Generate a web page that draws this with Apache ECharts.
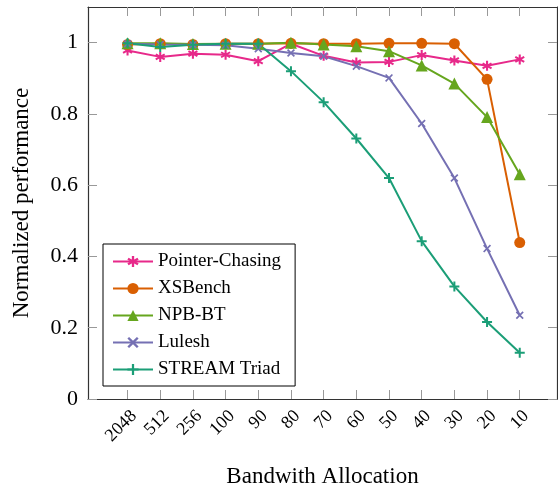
<!DOCTYPE html>
<html>
<head>
<meta charset="utf-8">
<script src="https://cdn.jsdelivr.net/npm/echarts@6/dist/echarts.min.js"></script>
<style>
html,body{margin:0;padding:0;background:#fff;}
#chart{width:558px;height:489px;}
</style>
</head>
<body>
<div id="chart"></div>
<script>
const categories = ['2048','512','256','100','90','80','70','60','50','40','30','20','10'];
const pointerChasing = [0.978,0.960,0.969,0.966,0.948,0.997,0.963,0.944,0.946,0.965,0.950,0.935,0.953];
const xsBench = [0.995,0.997,0.995,0.997,0.997,0.998,0.997,0.997,0.998,0.998,0.997,0.897,0.439];
const npbBT = [0.998,0.998,0.996,0.997,0.997,1.0,0.995,0.990,0.976,0.936,0.885,0.791,0.631];
const lulesh = [0.997,0.995,0.994,0.993,0.983,0.971,0.962,0.934,0.901,0.773,0.620,0.422,0.235];
const streamTriad = [0.998,0.988,0.994,0.997,0.997,0.920,0.833,0.731,0.620,0.443,0.316,0.216,0.130];
const yTicks = [0,0.2,0.4,0.6,0.8,1];

const FONT = 'Liberation Serif';
const xIdx = categories.map((c,i)=>i);
const toPairs = arr => arr.map((v,i)=>[i,v]);

const SYM_PLUS = 'path://M4,0H6V4H10V6H6V10H4V6H0V4H4Z';
const SYM_X = 'path://M1.5,0L5,3.5L8.5,0L10,1.5L6.5,5L10,8.5L8.5,10L5,6.5L1.5,10L0,8.5L3.5,5L0,1.5Z';
const SYM_AST = 'path://M4,0L6,0L6,10L4,10Z M1.17,1.634L9.83,6.634L8.83,8.366L0.17,3.366Z M9.83,3.366L1.17,8.366L0.17,6.634L8.83,1.634Z';

const frame = {lineStyle:{color:'#333',width:1.2}};
const tick = {show:true,inside:true,length:9,lineStyle:{color:'#999',width:1}};

const mk = (name,data,color,symbol,size)=>({
  name, type:'line', data:toPairs(data), xAxisIndex:0, yAxisIndex:0,
  symbol, symbolSize:size, showSymbol:true,
  lineStyle:{color,width:2}, itemStyle:{color},
  emphasis:{disabled:true}
});

const chart = echarts.init(document.getElementById('chart'));
chart.setOption({
  animation:false,
  backgroundColor:'#fff',
  grid:{left:88,right:1,top:7,bottom:90,containLabel:false,outerBoundsMode:'none'},
  xAxis:[
    {type:'value',position:'bottom',min:-1.21,max:13.14,
     axisLine:{show:true,onZero:false,...frame},
     axisTick:{...tick,customValues:xIdx},
     splitLine:{show:false},
     axisLabel:{customValues:xIdx,rotate:45,margin:8,verticalAlign:'top',fontFamily:FONT,fontSize:18,color:'#000',
       formatter:v=>categories[Math.round(v)]},
     name:'Bandwith Allocation',nameLocation:'middle',nameGap:66,
     nameTextStyle:{fontFamily:FONT,fontSize:23,color:'#000'}},
    {type:'value',position:'top',min:-1.21,max:13.14,
     axisLine:{show:true,onZero:false,...frame},
     axisTick:{...tick,customValues:xIdx},
     splitLine:{show:false},axisLabel:{show:false}}
  ],
  yAxis:[
    {type:'value',position:'left',min:0,max:1.1,
     axisLine:{show:true,onZero:false,...frame},
     axisTick:{...tick,customValues:yTicks},
     splitLine:{show:false},
     axisLabel:{customValues:yTicks,margin:10,fontFamily:FONT,fontSize:22,color:'#000'},
     name:'Normalized performance',nameLocation:'middle',nameGap:55,
     nameTextStyle:{fontFamily:FONT,fontSize:23,color:'#000'}},
    {type:'value',position:'right',min:0,max:1.1,
     axisLine:{show:true,onZero:false,...frame},
     axisTick:{...tick,customValues:yTicks},
     splitLine:{show:false},axisLabel:{show:false}}
  ],
  legend:{
    orient:'vertical',left:103,top:244,
    borderColor:'#000',borderWidth:1,borderRadius:0,
    padding:[8,14,7,9],itemGap:8,itemWidth:40,itemHeight:14,
    textStyle:{fontFamily:FONT,fontSize:19,color:'#000'},
    data:['Pointer-Chasing','XSBench','NPB-BT','Lulesh','STREAM Triad']
  },
  series:[
    mk('Pointer-Chasing',pointerChasing,'#e7298a',SYM_AST,10),
    mk('XSBench',xsBench,'#d95f02','circle',11),
    mk('NPB-BT',npbBT,'#66a61e','triangle',12),
    mk('Lulesh',lulesh,'#7570b3',SYM_X,8),
    mk('STREAM Triad',streamTriad,'#1b9e77',SYM_PLUS,10)
  ]
});
</script>
</body>
</html>
